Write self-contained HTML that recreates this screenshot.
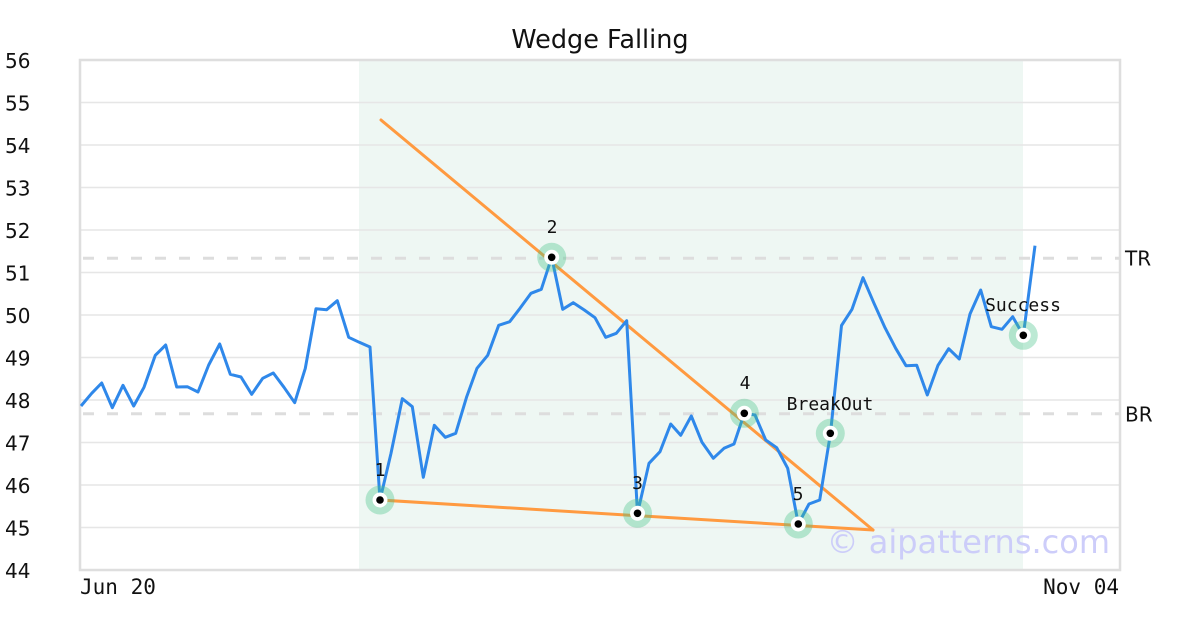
<!DOCTYPE html>
<html>
<head>
<meta charset="utf-8">
<style>
  html, body { margin: 0; padding: 0; background: #ffffff; }
  svg { display: block; }
  .sans { font-family: "DejaVu Sans", "Liberation Sans", sans-serif; }
  .mono { font-family: "DejaVu Sans Mono", "Liberation Mono", monospace; }
</style>
</head>
<body>
<svg width="1200" height="630" viewBox="0 0 1200 630" xmlns="http://www.w3.org/2000/svg">
  <rect x="0" y="0" width="1200" height="630" fill="#ffffff"/>
  <!-- shaded pattern region -->
  <rect x="359" y="61" width="664" height="508" fill="#eef7f3"/>

  <!-- gridlines -->
  <g stroke="#e6e6e6" stroke-width="1.5">
    <line x1="80" x2="1120" y1="102.5" y2="102.5"/>
    <line x1="80" x2="1120" y1="145" y2="145"/>
    <line x1="80" x2="1120" y1="187.5" y2="187.5"/>
    <line x1="80" x2="1120" y1="230" y2="230"/>
    <line x1="80" x2="1120" y1="272.5" y2="272.5"/>
    <line x1="80" x2="1120" y1="315" y2="315"/>
    <line x1="80" x2="1120" y1="357.5" y2="357.5"/>
    <line x1="80" x2="1120" y1="400" y2="400"/>
    <line x1="80" x2="1120" y1="442.5" y2="442.5"/>
    <line x1="80" x2="1120" y1="485" y2="485"/>
    <line x1="80" x2="1120" y1="527.5" y2="527.5"/>
  </g>

  <!-- TR / BR dashed lines -->
  <g stroke="#dddddd" stroke-width="3" stroke-dasharray="11 13">
    <line x1="83" x2="1120" y1="258.3" y2="258.3"/>
    <line x1="83" x2="1120" y1="413.7" y2="413.7"/>
  </g>

  <!-- frame -->
  <rect x="80" y="60" width="1040" height="510" fill="none" stroke="#dedede" stroke-width="2.5"/>

  <!-- y labels -->
  <g class="sans" font-size="20" fill="#111">
    <text x="5" y="68">56</text>
    <text x="5" y="110.5">55</text>
    <text x="5" y="153">54</text>
    <text x="5" y="195.5">53</text>
    <text x="5" y="238">52</text>
    <text x="5" y="280.5">51</text>
    <text x="5" y="323">50</text>
    <text x="5" y="365.5">49</text>
    <text x="5" y="408">48</text>
    <text x="5" y="450.5">47</text>
    <text x="5" y="493">46</text>
    <text x="5" y="535.5">45</text>
    <text x="5" y="578">44</text>
  </g>

  <!-- x labels -->
  <g class="mono" font-size="21" fill="#111">
    <text x="80" y="594">Jun 20</text>
    <text x="1119" y="594" text-anchor="end">Nov 04</text>
  </g>

  <!-- title -->
  <text class="sans" x="600" y="48" font-size="25.5" text-anchor="middle" fill="#111">Wedge Falling</text>

  <!-- TR / BR labels -->
  <g class="sans" font-size="20" fill="#111">
    <text x="1125" y="265.5">TR</text>
    <text x="1125" y="421.5">BR</text>
  </g>

  <!-- wedge lines -->
  <g stroke="#ff9a40" stroke-width="3" fill="none" stroke-linecap="round">
    <line x1="381" y1="120" x2="873" y2="530"/>
    <line x1="380" y1="500" x2="873" y2="530"/>
  </g>

  <!-- price line -->
  <polyline fill="none" stroke="#2f88ea" stroke-width="3" stroke-linejoin="round" points="
81,406 91.7,393.3 101.7,383 112.3,407.7 123,385.3 133.7,406 144,387.3 155.3,355.3 165.7,345 176.7,387
187.3,386.7 198,392 208.7,365 219.7,344 230.3,374.3 241,377 251.7,394.3 262.7,378.3 273.3,373 284,387.3
294.7,402.7 305.3,368.3 316,308.7 326.7,309.7 337.3,300.7 348.7,337.3 359.3,342.3 370,347 380,500 391,453.3
402.3,398.7 412.3,406.7 423.3,477.3 434.3,425.3 445.3,437.3 455.7,433.3 466.7,396.7 477,368.3 487.7,355.3 498.7,325.3
509.7,321.7 520,308.3 531,293.3 541.3,289.3 551.7,257.3 562.7,309.3 573.3,302.7 584.3,310 595,317.7 605.7,337.3
616.3,333.3 626.7,320.7 637.5,513.3 649,463.3 660,451.7 670.7,424 680.7,435.3 691.3,416 702,442.3 713.3,458.3
724,448.3 734,444 744.3,413.3 755,415 765.7,440 776.7,447.7 787.7,468.3 798.3,524 809,504 819.7,500
830.5,433.3 841.5,325.5 852,309.3 863,277.7 874,303.3 885,327.7 895.7,348.3 906,365.7 916.7,365.3 927.3,395
938,365.3 948.7,348.7 959.3,359 970,314 980.7,290 991.3,326.7 1002,329.3 1012.7,316.7 1023.3,335.3 1035,245.7"/>

  <!-- markers -->
  <g>
    <g transform="translate(380,500)"><circle r="14.5" fill="rgba(70,195,135,0.36)"/><circle r="7.5" fill="#fff"/><circle r="3.8" fill="#000"/></g>
    <g transform="translate(551.7,257.3)"><circle r="14.5" fill="rgba(70,195,135,0.36)"/><circle r="7.5" fill="#fff"/><circle r="3.8" fill="#000"/></g>
    <g transform="translate(637.5,513.3)"><circle r="14.5" fill="rgba(70,195,135,0.36)"/><circle r="7.5" fill="#fff"/><circle r="3.8" fill="#000"/></g>
    <g transform="translate(744.3,413.3)"><circle r="14.5" fill="rgba(70,195,135,0.36)"/><circle r="7.5" fill="#fff"/><circle r="3.8" fill="#000"/></g>
    <g transform="translate(798.3,524)"><circle r="14.5" fill="rgba(70,195,135,0.36)"/><circle r="7.5" fill="#fff"/><circle r="3.8" fill="#000"/></g>
    <g transform="translate(830.3,433.3)"><circle r="14.5" fill="rgba(70,195,135,0.36)"/><circle r="7.5" fill="#fff"/><circle r="3.8" fill="#000"/></g>
    <g transform="translate(1023.3,335.3)"><circle r="14.5" fill="rgba(70,195,135,0.36)"/><circle r="7.5" fill="#fff"/><circle r="3.8" fill="#000"/></g>
  </g>

  <!-- marker labels -->
  <g class="mono" font-size="18" fill="#111" text-anchor="middle">
    <text x="380" y="476">1</text>
    <text x="552" y="233">2</text>
    <text x="637.5" y="489">3</text>
    <text x="745" y="389">4</text>
    <text x="798" y="500">5</text>
    <text x="830" y="410">BreakOut</text>
    <text x="1023" y="311">Success</text>
  </g>

  <!-- watermark -->
  <text class="sans" x="1110" y="553" font-size="32" text-anchor="end" fill="#c8c8fa" fill-opacity="0.9">© aipatterns.com</text>
</svg>
</body>
</html>
